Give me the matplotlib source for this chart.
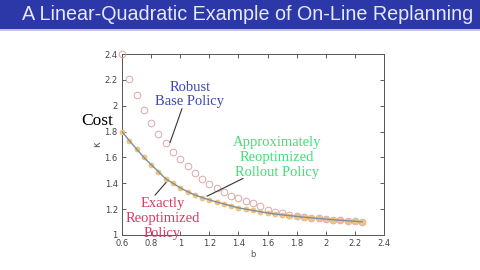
import matplotlib

matplotlib.use("Agg")
import matplotlib.pyplot as plt
from matplotlib.patches import Rectangle

# sample points of b (step 0.05)
b_vals = [0.60, 0.65, 0.70, 0.75, 0.80, 0.85, 0.90, 0.95, 1.00, 1.05,
          1.10, 1.15, 1.20, 1.25, 1.30, 1.35, 1.40, 1.45, 1.50, 1.55,
          1.60, 1.65, 1.70, 1.75, 1.80, 1.85, 1.90, 1.95, 2.00, 2.05,
          2.10, 2.15, 2.20, 2.25]

# robust base policy cost
base_cost = [2.40, 2.21, 2.08, 1.97, 1.865, 1.785, 1.71, 1.64, 1.585, 1.53,
             1.48, 1.435, 1.395, 1.36, 1.33, 1.305, 1.285, 1.265, 1.245, 1.225,
             1.197, 1.18, 1.167, 1.155, 1.147, 1.14, 1.134, 1.128, 1.122, 1.117,
             1.113, 1.109, 1.106, 1.103]

# exactly reoptimized policy cost (line)
exact_cost = [1.80, 1.73, 1.665, 1.60, 1.545, 1.49, 1.435, 1.40, 1.365, 1.335,
              1.31, 1.29, 1.272, 1.255, 1.24, 1.225, 1.21, 1.20, 1.19, 1.18,
              1.17, 1.163, 1.156, 1.15, 1.144, 1.138, 1.133, 1.128, 1.123, 1.118,
              1.114, 1.110, 1.106, 1.102]

# approximately reoptimized rollout policy cost (markers)
rollout_cost = list(exact_cost)

x_ticks = [0.6, 0.8, 1, 1.2, 1.4, 1.6, 1.8, 2, 2.2, 2.4]
y_ticks = [1, 1.2, 1.4, 1.6, 1.8, 2, 2.2, 2.4]

fig = plt.figure(figsize=(4.8, 2.7), dpi=100)
fig.patch.set_facecolor("white")

# title band
fig.patches.append(Rectangle((0, 1 - 29 / 270), 1, 29 / 270, transform=fig.transFigure,
                             facecolor="#2c37a8", edgecolor="none", zorder=0))
fig.patches.append(Rectangle((0, 1 - 31 / 270), 1, 2 / 270, transform=fig.transFigure,
                             facecolor="#c8c8d0", edgecolor="none", zorder=0))
fig.text(0.045, 1 - 14.5 / 270, "A Linear-Quadratic Example of On-Line Replanning",
         color="#e6e8ff", fontsize=14.2, family="Liberation Sans", va="center", ha="left")

ax = fig.add_axes([122 / 480, 1 - 235 / 270, 262 / 480, 181 / 270])
ax.plot(b_vals, base_cost, "o", markerfacecolor="none", markeredgecolor="#dba8a8",
        markersize=4.8, markeredgewidth=0.7, clip_on=False, zorder=3)
ax.plot(b_vals, rollout_cost, "o", markerfacecolor="#f3c880", markeredgecolor="#f0b860",
        markersize=3.6, markeredgewidth=0.5, clip_on=False, zorder=4)
ax.plot(b_vals, exact_cost, "-", color="#7d8fa3", linewidth=1.0, zorder=5)

ax.set_xlim(0.6, 2.4)
ax.set_ylim(1, 2.4)
ax.set_xticks(x_ticks)
ax.set_xticklabels(["0.6", "0.8", "1", "1.2", "1.4", "1.6", "1.8", "2", "2.2", "2.4"])
ax.set_yticks(y_ticks)
ax.set_yticklabels(["1", "1.2", "1.4", "1.6", "1.8", "2", "2.2", "2.4"])
ax.tick_params(direction="in", length=3, width=0.6, labelsize=6, colors="#444444",
               top=True, right=True, pad=3)
for sp in ax.spines.values():
    sp.set_color("#555555")
    sp.set_linewidth(0.7)
ax.set_xlabel("b", fontsize=6, color="#555555", labelpad=1)
ax.set_ylabel("κ", fontsize=7, color="#555555", labelpad=2)

serif = "Liberation Serif"
fig.text(97 / 480, 1 - 121 / 270, "Cost", fontsize=12.5, family=serif, color="black",
         ha="center", va="center")

# labels
ax.text(1.067, 2.085, "Robust\nBase Policy", fontsize=10.5, family=serif,
        color="#3b46b8", ha="center", va="center", linespacing=1.15)
ax.text(1.665, 1.60, "Approximately\nReoptimized\nRollout Policy", fontsize=10.5,
        family=serif, color="#44dd77", ha="center", va="center", linespacing=1.2)
ax.text(0.878, 1.13, "Exactly\nReoptimized\nPolicy", fontsize=10.5, family=serif,
        color="#d83a62", ha="center", va="center", linespacing=1.2)

# pointer lines (start near label, end at curve)
pointers = [((1.012, 1.977), (0.93, 1.715)),
            ((1.432, 1.438), (1.184, 1.30)),
            ((0.827, 1.308), (0.909, 1.415))]
for start, end in pointers:
    ax.annotate("", xy=end, xytext=start,
                arrowprops=dict(arrowstyle="-", color="#333333", lw=0.8,
                                shrinkA=0, shrinkB=0))

fig.savefig("out.png", dpi=100)
